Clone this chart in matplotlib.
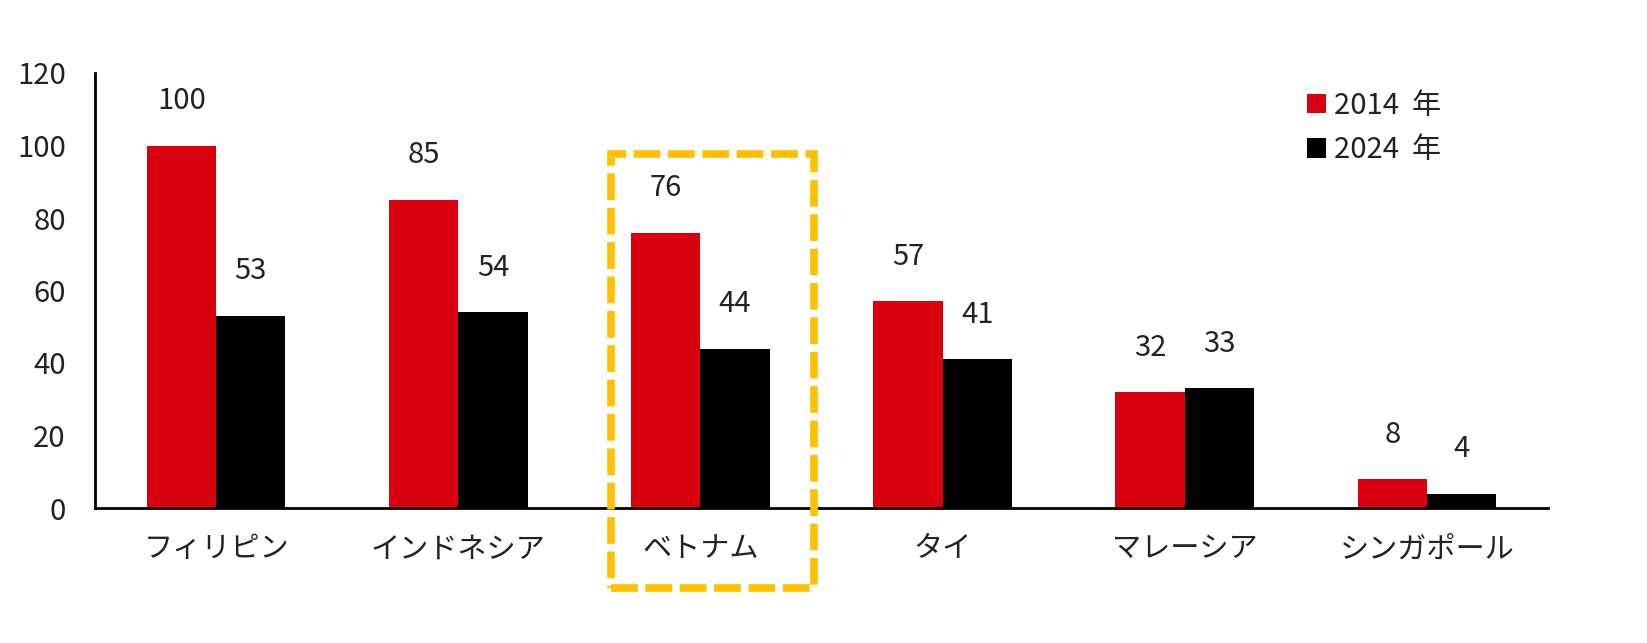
import numpy as np
import matplotlib.pyplot as plt
from matplotlib.patches import Rectangle

plt.rcParams['font.family'] = ['Noto Sans CJK JP', 'DejaVu Sans']

countries = ['フィリピン', 'インドネシア', 'ベトナム', 'タイ', 'マレーシア', 'シンガポール']
v2014 = [100, 85, 76, 57, 32, 8]
v2024 = [53, 54, 44, 41, 33, 4]
series_labels = ['2014  年', '2024  年']

red = '#D9000F'
black = '#000000'

fig = plt.figure(figsize=(16.47, 6.43), dpi=100)
ax = fig.add_axes([95/1647, 135/643, 1453/1647, 435/643])

x = np.arange(len(countries))
w = 0.286
b1 = ax.bar(x - w/2, v2014, w, color=red, label=series_labels[0])
b2 = ax.bar(x + w/2, v2024, w, color=black, label=series_labels[1])

for bars, vals in [(b1, v2014), (b2, v2024)]:
    for r, v in zip(bars, vals):
        ax.annotate(str(v), (r.get_x() + r.get_width()/2, v),
                    xytext=(0, 32), textcoords='offset points',
                    ha='center', va='center', fontsize=21, color='#222222')

ax.set_xlim(-0.5, len(countries) - 0.5)
ax.set_ylim(0, 120)
ax.set_yticks(range(0, 121, 20))
ax.set_xticks(x)
ax.set_xticklabels(countries)
ax.tick_params(axis='both', length=0, labelsize=21, colors='#222222')
ax.tick_params(axis='y', pad=21)
ax.tick_params(axis='x', pad=19)
for s in ['top', 'right']:
    ax.spines[s].set_visible(False)
for s in ['left', 'bottom']:
    ax.spines[s].set_linewidth(2)
    ax.spines[s].set_color('black')

leg = ax.legend(loc='upper left', bbox_to_anchor=(1292/1647, 1 - 76/643),
                bbox_transform=fig.transFigure, frameon=False, fontsize=21,
                handlelength=0.65, handleheight=0.65, handletextpad=0.3,
                labelspacing=0.5, borderpad=0)
for t in leg.get_texts():
    t.set_color('#222222')

# highlight box around Vietnam
box = Rectangle((611/1647, 1 - 588/643), (814 - 611)/1647, (588 - 154)/643,
                transform=fig.transFigure, fill=False, edgecolor='#FFC000',
                linewidth=5.5, linestyle=(0, (3.5, 1.0)), zorder=10)
fig.patches.append(box)

fig.savefig('out.png', dpi=100)
plt.close()
